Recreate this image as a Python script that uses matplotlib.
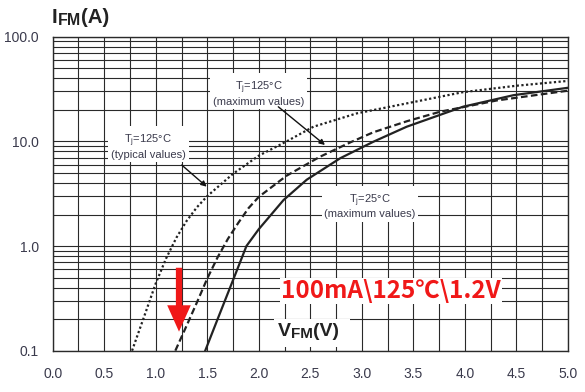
import numpy as np
import matplotlib
matplotlib.use('Agg')
import matplotlib.pyplot as plt
from matplotlib.ticker import MultipleLocator, FixedLocator, LogLocator, NullFormatter
from matplotlib.transforms import IdentityTransform
from matplotlib.patches import Rectangle

# forward characteristics
typ125_v = [0.77, 0.9, 1.0, 1.1, 1.2, 1.3, 1.4, 1.5, 1.75, 2.0, 2.27, 2.53, 2.95, 3.44, 3.98, 4.5, 5.0]
typ125_i = [0.1, 0.23, 0.44, 0.76, 1.2, 1.74, 2.35, 3.0, 4.9, 7.3, 10.0, 13.8, 18.5, 23.1, 29.5, 34.0, 37.8]

max125_v = [1.19, 1.3, 1.4, 1.5, 1.6, 1.7, 1.8, 1.9, 2.0, 2.27, 2.59, 2.89, 3.11, 3.44, 3.76, 4.31, 5.0]
max125_i = [0.1, 0.174, 0.29, 0.49, 0.78, 1.17, 1.66, 2.3, 2.95, 4.7, 7.1, 9.8, 12.2, 15.6, 19.2, 24.6, 30.5]

max25_v = [1.48, 1.6, 1.7, 1.8, 1.88, 2.0, 2.24, 2.465, 2.79, 3.11, 3.435, 3.98, 4.47, 5.0]
max25_i = [0.1, 0.2, 0.355, 0.63, 1.0, 1.45, 2.75, 4.3, 6.9, 9.9, 13.8, 21.4, 27.6, 32.5]

x_ticks = [0.0, 0.5, 1.0, 1.5, 2.0, 2.5, 3.0, 3.5, 4.0, 4.5, 5.0]
y_ticks = [0.1, 1.0, 10.0, 100.0]
y_tick_labels = ['0.1', '1.0', '10.0', '100.0']

plt.rcParams['font.family'] = ['Liberation Sans', 'DejaVu Sans']
label_color = '#3a3a4c'
line_color = '#222222'

fig = plt.figure(figsize=(5.85, 3.92), dpi=100)
ax = fig.add_axes([0.0901, 0.1054, 0.8808, 0.801])

ax.plot(typ125_v, typ125_i, color=line_color, lw=1.6, ls=(0, (1, 1.1)))
ax.plot(max125_v, max125_i, color=line_color, lw=1.6, ls=(0, (3, 1.5)))
ax.plot(max25_v, max25_i, color=line_color, lw=1.6, ls='-')

ax.set_yscale('log')
ax.set_xlim(0, 5)
ax.set_ylim(0.1, 100)
ax.set_xticks(x_ticks)
ax.set_xticklabels([f'{v:.1f}' for v in x_ticks])
ax.xaxis.set_minor_locator(MultipleLocator(0.25))
ax.yaxis.set_major_locator(FixedLocator(y_ticks))
ax.set_yticklabels(y_tick_labels)
ax.yaxis.set_minor_locator(LogLocator(base=10, subs=np.arange(2, 10)))
ax.yaxis.set_minor_formatter(NullFormatter())

ax.grid(which='both', color='#2a2a2a', lw=0.8)
ax.set_axisbelow(True)
ax.tick_params(which='both', length=0, labelsize=10, labelcolor=label_color)
ax.tick_params(axis='x', pad=12)
ax.tick_params(axis='y', pad=10)
for sp in ax.spines.values():
    sp.set_color('#2a2a2a')
    sp.set_linewidth(1.0)

# curve annotations
note = dict(fontsize=8, color=label_color, ha='center', va='center', linespacing=1.1,
            bbox=dict(fc='white', ec='none', pad=2))
arrow = dict(arrowstyle='-|>', color='#111111', lw=1.0, mutation_scale=8, shrinkA=0, shrinkB=0)

ax.text(0.928, 9.04, 'T$_\\mathregular{j}$=125°C\n(typical values)', **note)
ax.annotate('', xy=(1.494, 3.69), xytext=(1.252, 5.94), arrowprops=arrow)

ax.text(2.0, 29.0, 'T$_\\mathregular{j}$=125°C\n(maximum values)', **note)
ax.annotate('', xy=(2.642, 9.23), xytext=(2.189, 21.4), arrowprops=arrow)

ax.text(3.079, 2.42, 'T$_\\mathregular{j}$=25°C\n(maximum values)', **note)

# red highlight
ax.annotate('', xy=(1.2255, 0.152), xytext=(1.2255, 0.62),
            arrowprops=dict(arrowstyle='simple,head_length=1.9,head_width=1.7,tail_width=0.45',
                            color='#f01818', lw=0, mutation_scale=10, shrinkA=0, shrinkB=0))
ax.text(3.283, 0.372, '100mA\\125℃\\1.2V', color='#f01818', fontsize=17.5, fontweight='bold',
        family=['Noto Sans CJK SC', 'DejaVu Sans'], ha='center', va='center',
        bbox=dict(fc='white', ec='none', pad=1))

# white patch behind the x-axis name, as in the datasheet
ax.add_patch(Rectangle((274, 45), 76, 28, transform=IdentityTransform(),
                       fc='white', ec='none', zorder=1))


def draw_pieces(x, y, pieces):
    r = fig.canvas.get_renderer()
    for s, size, dy in pieces:
        t = fig.text(x, y + dy, s, fontsize=size, fontweight='bold', color='#222222',
                     va='baseline', transform=IdentityTransform())
        x += t.get_window_extent(r).width


draw_pieces(51.7, 368.7, [('I', 14.8, 0), ('FM', 11.5, -1.7), ('(A)', 14.8, 0)])
draw_pieces(278, 56, [('V', 14, 0), ('FM', 11, -1.5), ('(V)', 14, 0)])

fig.savefig('out.png', dpi=100)
